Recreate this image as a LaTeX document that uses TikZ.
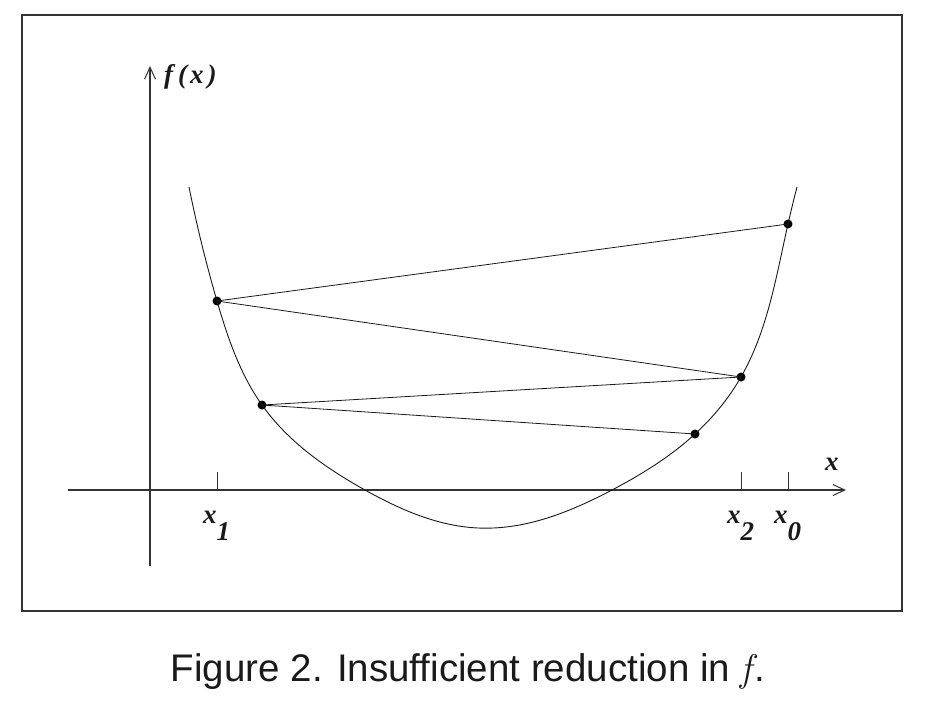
\documentclass[tikz,border=0pt]{standalone}
\usepackage{fontspec}
\setmainfont{Liberation Serif}
\newfontfamily\capfont{Liberation Sans}
\newfontfamily\lmfont{Latin Modern Roman}
\usetikzlibrary{positioning,arrows.meta,hobby}
\definecolor{cInk}{HTML}{1A1A1A}
\definecolor{cAxis}{HTML}{333333}
\tikzset{
  frame/.style={draw=cAxis,line width=1.2pt},
  axis/.style={draw=cAxis,line width=1.1pt,-{Straight Barb[length=12pt,width=11pt,line width=1pt]}},
  tick/.style={draw=cAxis,line width=1pt},
  curve/.style={draw=cInk,line width=0.9pt},
  chord/.style={draw=cInk,line width=0.8pt},
  dot/.style={circle,fill=black,inner sep=0pt,minimum size=9pt},
  lbl/.style={font=\fontsize{27}{30}\selectfont\bfseries\itshape,inner sep=0pt,text=cInk},
}
\newcommand\xsub[1]{x\raisebox{-17pt}{#1}}
\begin{document}
\begin{tikzpicture}[x=1pt,y=-1pt]
  \useasboundingbox (0,0) rectangle (949,703);
  \draw[frame] (22,15) rectangle (902,611);

  % axes
  \coordinate (xa) at (68,490);
  \coordinate (xb) at (846,490);
  \coordinate (ya) at (150,566);
  \coordinate (yb) at (150,66);
  \draw[axis] (xa) -- (xb);
  \draw[axis] (ya) -- (yb);
  \node[lbl,anchor=base west] (fx) at (164,84) {f\kern5pt(\kern3pt x\kern4pt)};
  \node[lbl,anchor=base west] (xl) at (825,470) {x};

  % iterates
  \node[dot] (p0) at (788,224) {};
  \node[dot] (p1) at (217,301) {};
  \node[dot] (p2) at (741,377) {};
  \node[dot] (p3) at (262,405) {};
  \node[dot] (p4) at (695,434) {};

  % ticks and labels
  \foreach \n/\t in {p1/1,p2/2,p0/0}{
    \coordinate (t\t) at (\n |- xa);
    \draw[tick] (t\t) -- ++(0,-18);
    \node[lbl,anchor=base west] (l\t) at ([xshift=-14pt,yshift=-33pt]t\t) {\xsub{\t}};
  }

  \draw[curve] (189,187) to[curve through={(p1.center) (p3.center)
    (365,490) (478,528) (612,490) (p4.center) (p2.center) (p0.center)}] (797,187);

  \draw[chord] (p0.center) -- (p1.center);
  \draw[chord] (p1.center) -- (p2.center);
  \draw[chord] (p2.center) -- (p3.center);
  \draw[chord] (p3.center) -- (p4.center);

  \node[font=\capfont\fontsize{38.5}{44}\selectfont,text=cInk] (cap) at (468,672)
    {Figure 2. Insufficient reduction in {\lmfont\itshape f}\kern2pt.};
\end{tikzpicture}
\end{document}
